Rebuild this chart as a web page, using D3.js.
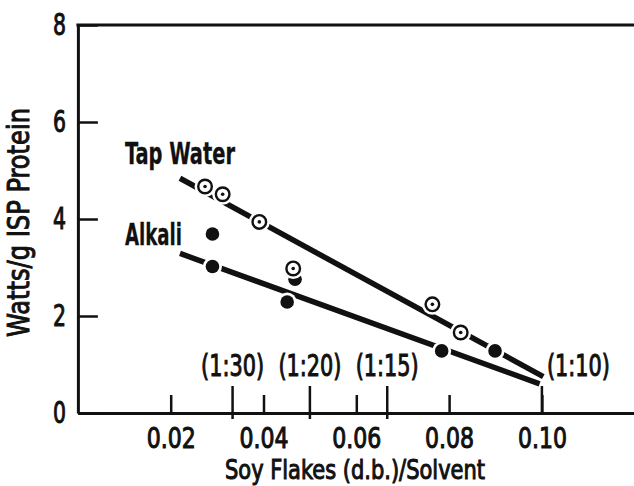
<!DOCTYPE html>
<html>
<head>
<meta charset="utf-8">
<script src="https://cdn.jsdelivr.net/npm/d3@7"></script>
<style>
  html, body { margin: 0; padding: 0; background: #fff; }
  svg { display: block; }
  text { font-family: "DejaVu Sans Condensed", "DejaVu Sans", sans-serif; fill: #111; stroke: #111; stroke-width: 1px; }
  text.heavy { font-weight: bold; stroke-width: 0.3px; }
</style>
</head>
<body>
<svg id="chart" width="634" height="486"></svg>
<script>
// Soy flake / solvent ratio vs. power per gram of isolated soy protein
const tapWaterX = [0.0274, 0.0312, 0.0391, 0.0464, 0.0764, 0.0825];
const tapWaterY = [4.67, 4.51, 3.94, 2.98, 2.24, 1.66];
const alkaliX = [0.0290, 0.0290, 0.0468, 0.0451, 0.0784, 0.0899];
const alkaliY = [3.69, 3.02, 2.76, 2.29, 1.28, 1.28];

// fitted lines (start and end of each drawn segment)
const tapWaterLineX = [0.0220, 0.1003];
const tapWaterLineY = [4.84, 0.75];
const alkaliLineX = [0.0220, 0.0995];
const alkaliLineY = [3.29, 0.60];

const xTicks = [0.02, 0.04, 0.06, 0.08, 0.10];
const xTickLabels = ["0.02", "0.04", "0.06", "0.08", "0.10"];
const yTicks = [0, 2, 4, 6, 8];
const ratioValues = [1 / 30, 1 / 20, 1 / 15, 1 / 10];
const ratioLabels = ["(1:30)", "(1:20)", "(1:15)", "(1:10)"];

const svg = d3.select("#chart");
const x = d3.scaleLinear().domain([0, 0.12]).range([77.9, 634.7]);
const y = d3.scaleLinear().domain([0, 8]).range([413, 25]);
const ink = "#111";

// squeeze text to a condensed width
function fit(sel, w) {
  sel.attr("textLength", w).attr("lengthAdjust", "spacingAndGlyphs");
}

// x axis: ticks point up into the plot
const xAxis = svg.append("g")
  .attr("transform", `translate(0,${y(0)})`)
  .call(d3.axisBottom(x).tickValues(xTicks)
    .tickFormat((d, i) => xTickLabels[i])
    .tickSizeInner(-18).tickSizeOuter(0).tickPadding(15));
xAxis.select(".domain").attr("stroke", ink).attr("stroke-width", 3);
xAxis.selectAll(".tick line").attr("stroke", ink).attr("stroke-width", 2.5);
xAxis.selectAll(".tick text").attr("font-size", 28).attr("fill", ink).call(fit, 49);

// y axis: ticks point right into the plot
const yAxis = svg.append("g")
  .attr("transform", `translate(${x(0)},0)`)
  .call(d3.axisLeft(y).tickValues(yTicks).tickFormat(d3.format("d"))
    .tickSizeInner(-20).tickSizeOuter(0).tickPadding(12));
yAxis.select(".domain").attr("stroke", ink).attr("stroke-width", 3);
yAxis.selectAll(".tick line").attr("stroke", ink).attr("stroke-width", 2.5);
yAxis.selectAll(".tick text").attr("font-size", 30).attr("fill", ink).call(fit, 13);

// top frame line
svg.append("line")
  .attr("x1", x(0) - 1.5).attr("x2", x(0.12))
  .attr("y1", y(8)).attr("y2", y(8))
  .attr("stroke", ink).attr("stroke-width", 3);

// ratio ticks crossing the x axis
svg.append("g").selectAll("line").data(ratioValues).join("line")
  .attr("x1", d => x(d)).attr("x2", d => x(d))
  .attr("y1", y(0) - 27)
  .attr("y2", (d, i) => i === ratioValues.length - 1 ? y(0) : y(0) + 6)
  .attr("stroke", ink).attr("stroke-width", 2.5);

svg.append("g").selectAll("text").data(ratioValues).join("text")
  .attr("x", (d, i) => i === ratioValues.length - 1 ? x(d) + 5 : x(d))
  .attr("y", 376)
  .attr("text-anchor", (d, i) => i === ratioValues.length - 1 ? "start" : "middle")
  .attr("font-size", 30)
  .text((d, i) => ratioLabels[i])
  .call(fit, 63);

// fitted lines
const lineGen = d3.line().x(d => x(d[0])).y(d => y(d[1]));
const tapLine = tapWaterLineX.map((v, i) => [v, tapWaterLineY[i]]);
const alkLine = alkaliLineX.map((v, i) => [v, alkaliLineY[i]]);
svg.append("path").attr("d", lineGen(alkLine))
  .attr("fill", "none").attr("stroke", ink).attr("stroke-width", 5.5);
svg.append("path").attr("d", lineGen(tapLine))
  .attr("fill", "none").attr("stroke", ink).attr("stroke-width", 5.5);

// alkali points: solid dots with a white halo breaking the line
const alk = alkaliX.map((v, i) => [v, alkaliY[i]]);
const gA = svg.append("g");
gA.selectAll("circle.halo").data(alk).join("circle").attr("class", "halo")
  .attr("cx", d => x(d[0])).attr("cy", d => y(d[1])).attr("r", 9.5).attr("fill", "#fff");
gA.selectAll("circle.dot").data(alk).join("circle").attr("class", "dot")
  .attr("cx", d => x(d[0])).attr("cy", d => y(d[1])).attr("r", 6.8).attr("fill", ink);

// tap water points: open circles with a centre dot
const tap = tapWaterX.map((v, i) => [v, tapWaterY[i]]);
const gT = svg.append("g");
gT.selectAll("circle.halo").data(tap).join("circle").attr("class", "halo")
  .attr("cx", d => x(d[0])).attr("cy", d => y(d[1])).attr("r", 10.5).attr("fill", "#fff");
gT.selectAll("circle.ring").data(tap).join("circle").attr("class", "ring")
  .attr("cx", d => x(d[0])).attr("cy", d => y(d[1])).attr("r", 6.8)
  .attr("fill", "#fff").attr("stroke", ink).attr("stroke-width", 2.4);
gT.selectAll("circle.core").data(tap).join("circle").attr("class", "core")
  .attr("cx", d => x(d[0])).attr("cy", d => y(d[1])).attr("r", 1.8).attr("fill", ink);

// series labels
svg.append("text").attr("class", "heavy").attr("x", 125).attr("y", 164).attr("font-size", 31)
  .text("Tap Water").call(fit, 110);
svg.append("text").attr("class", "heavy").attr("x", 125).attr("y", 245).attr("font-size", 31)
  .text("Alkali").call(fit, 57);

// axis titles
svg.append("text")
  .attr("x", 225).attr("y", 479).attr("font-size", 27)
  .text("Soy Flakes (d.b.)/Solvent").call(fit, 260);
svg.append("text")
  .attr("transform", "translate(29,337) rotate(-90)")
  .attr("font-size", 31)
  .text("Watts/g ISP Protein").call(fit, 229);
</script>
</body>
</html>
